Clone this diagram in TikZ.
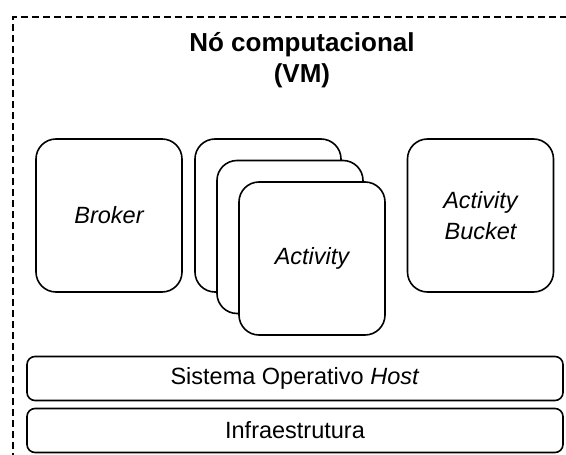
\documentclass[tikz,border=0pt]{standalone}
\usepackage{fontspec}
\setmainfont{Liberation Sans}
\begin{document}
\begin{tikzpicture}[x=1pt, y=-1pt,
  card/.style={draw, line width=1.6pt, fill=white, rounded corners=20pt,
    minimum width=146pt, minimum height=153pt, inner sep=0pt, align=center,
    font=\fontsize{23.5}{31}\selectfont\itshape},
  layer/.style={draw, line width=1.6pt, fill=white, rounded corners=8pt,
    minimum width=536pt, minimum height=44pt, inner sep=0pt,
    font=\fontsize{23.5}{28}\selectfont},
  frame/.style={line width=1.6pt, dash pattern=on 7pt off 4pt}]
  \useasboundingbox (0,0) rectangle (566,455);

  % dashed outline of the VM, running off the right and bottom edges
  \draw[frame] (13,460) -- (13,17) -- (575,17);

  \node[align=center, font=\fontsize{26}{31}\selectfont\bfseries] (title) at (302,60)
    {Nó computacional\\(VM)};

  \node[card] (broker) at (109,215.5) {Broker};

  % stack of activity instances
  \node[card] (act1) at (268,215.5) {};
  \node[card] (act2) at (290,237) {};
  \node[card] (act3) at (312,258.5) {Activity};

  \node[card] (bucket) at (480.5,215.5) {Activity\\Bucket};

  \node[layer] (os) at (295,378.5) {Sistema Operativo \textit{Host}};
  \node[layer] (infra) at (295,430.5) {Infraestrutura};
\end{tikzpicture}
\end{document}
